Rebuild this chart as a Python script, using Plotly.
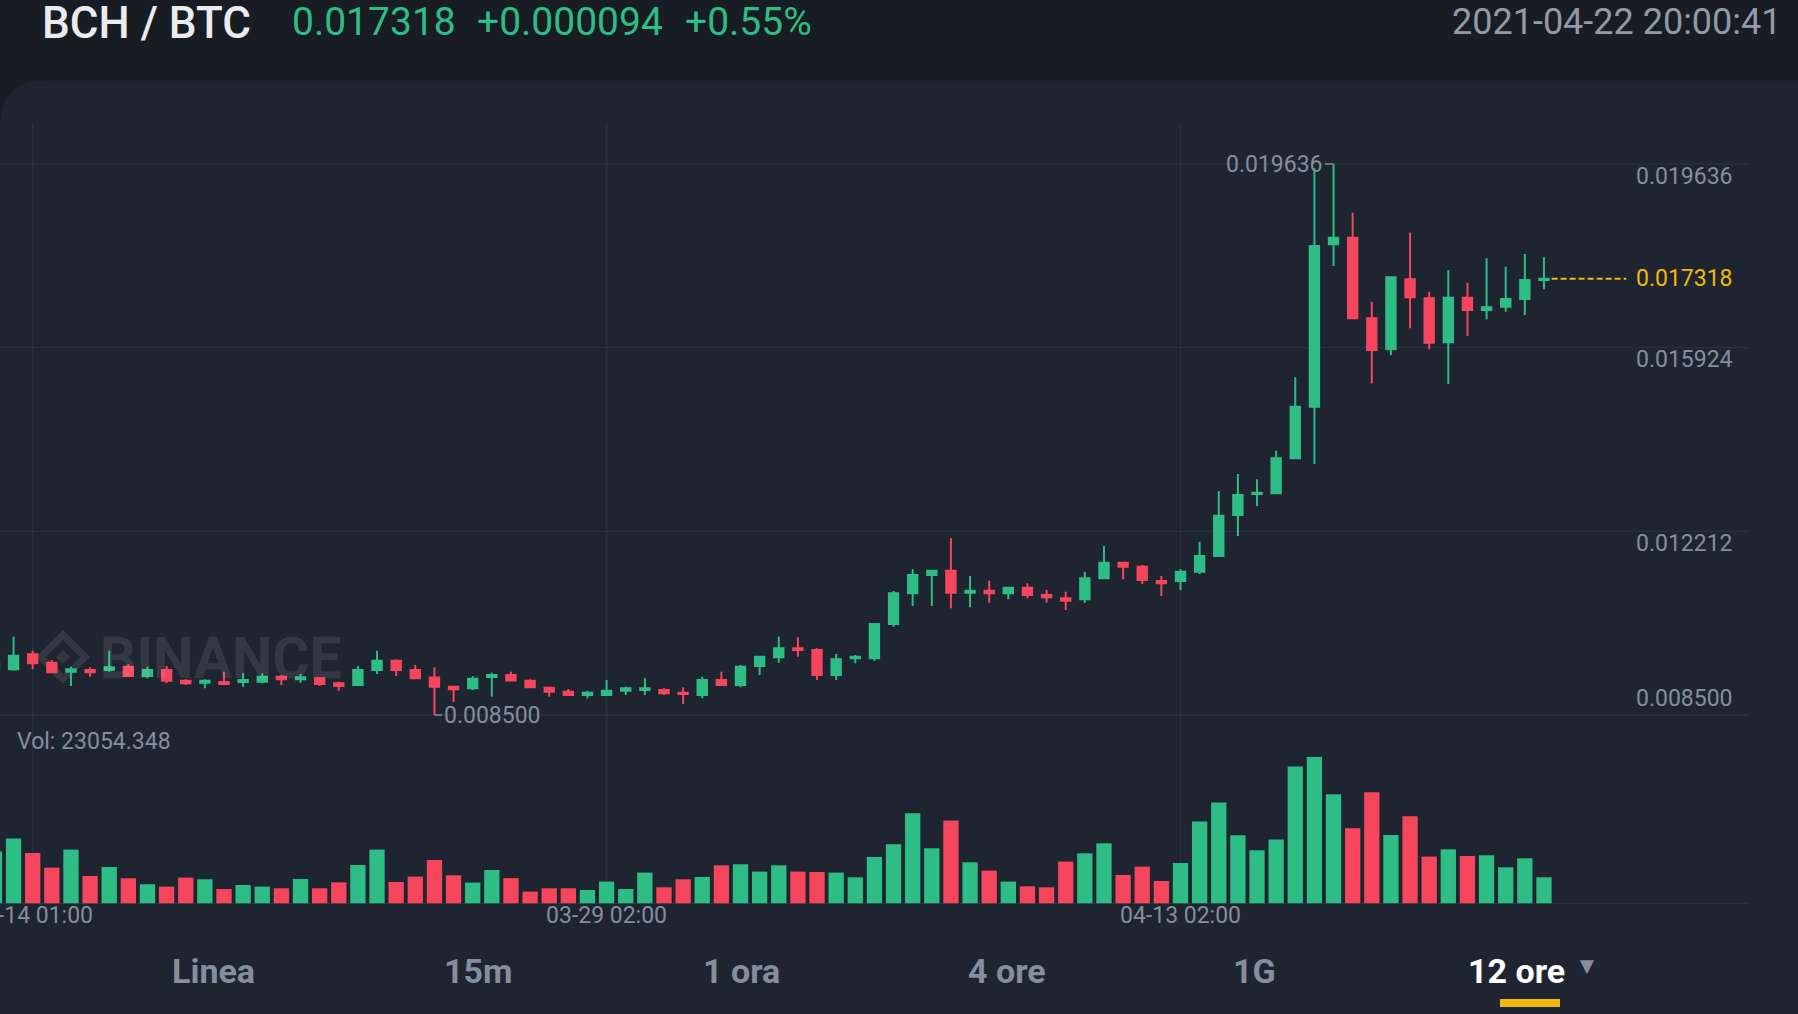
import plotly.graph_objects as go

W, H = 1798, 1014

# 12h candles, index 0 = 03-14 01:00
candle_idx = list(range(-2, 80))
open_ = [
    0.009409, 0.009424, 0.009727, 0.009557, 0.009375, 0.009409, 0.009409, 0.009476, 0.009288, 0.009409,
    0.009193, 0.009153, 0.009167, 0.009167, 0.009173, 0.009274, 0.009221, 0.009242, 0.009141, 0.009106,
    0.009409, 0.009597, 0.009409, 0.009258, 0.009072, 0.009040, 0.009268, 0.009308, 0.009193, 0.009052,
    0.008971, 0.008904, 0.008904, 0.008991, 0.009005, 0.009005, 0.008951, 0.008904, 0.009207, 0.009106,
    0.009490, 0.009666, 0.009848, 0.009814, 0.009308, 0.009646, 0.009646, 0.010339, 0.010960, 0.011329,
    0.011416, 0.010972, 0.011012, 0.010960, 0.011073, 0.010925, 0.010859, 0.010838, 0.011263, 0.011578,
    0.011497, 0.011208, 0.011208, 0.011396, 0.011713, 0.012542, 0.012966, 0.012981, 0.013688, 0.014731,
    0.018013, 0.018146, 0.016517, 0.015891, 0.017306, 0.016921, 0.016032, 0.016934, 0.016685, 0.016752,
    0.016907, 0.017290,
]
high = [
    0.009612, 0.010082, 0.009800, 0.009612, 0.009476, 0.009464, 0.009800, 0.009531, 0.009476, 0.009490,
    0.009221, 0.009221, 0.009375, 0.009343, 0.009343, 0.009308, 0.009329, 0.009262, 0.009173, 0.009490,
    0.009800, 0.009626, 0.009510, 0.009464, 0.009072, 0.009282, 0.009355, 0.009375, 0.009221, 0.009072,
    0.009025, 0.008991, 0.009207, 0.009072, 0.009242, 0.009040, 0.009060, 0.009274, 0.009375, 0.009510,
    0.009692, 0.010082, 0.010070, 0.009848, 0.009733, 0.009713, 0.010353, 0.011006, 0.011445, 0.011430,
    0.012071, 0.011309, 0.011214, 0.011093, 0.011162, 0.011026, 0.010992, 0.011396, 0.011915, 0.011598,
    0.011532, 0.011309, 0.011445, 0.012002, 0.013027, 0.013371, 0.013263, 0.013842, 0.015325, 0.019549,
    0.019636, 0.018651, 0.016853, 0.017346, 0.018247, 0.017055, 0.017493, 0.017237, 0.017730, 0.017560,
    0.017817, 0.017750,
]
low = [
    0.009369, 0.009395, 0.009424, 0.009343, 0.009086, 0.009274, 0.009375, 0.009262, 0.009242, 0.009141,
    0.009106, 0.009040, 0.009106, 0.009072, 0.009141, 0.009106, 0.009153, 0.009086, 0.008991, 0.009086,
    0.009329, 0.009288, 0.009221, 0.008500, 0.008763, 0.009005, 0.008870, 0.009187, 0.009040, 0.008870,
    0.008884, 0.008838, 0.008894, 0.008904, 0.008904, 0.008904, 0.008722, 0.008838, 0.009086, 0.009060,
    0.009308, 0.009557, 0.009678, 0.009207, 0.009207, 0.009545, 0.009597, 0.010285, 0.010703, 0.010703,
    0.010656, 0.010677, 0.010770, 0.010838, 0.010859, 0.010770, 0.010622, 0.010770, 0.011242, 0.011242,
    0.011148, 0.010905, 0.011026, 0.011350, 0.011713, 0.012118, 0.012724, 0.012966, 0.013688, 0.013573,
    0.017574, 0.016497, 0.015204, 0.015776, 0.016315, 0.015891, 0.015190, 0.016160, 0.016497, 0.016651,
    0.016584, 0.017103,
]
close = [
    0.009551, 0.009698, 0.009545, 0.009363, 0.009424, 0.009363, 0.009464, 0.009288, 0.009409, 0.009193,
    0.009141, 0.009193, 0.009127, 0.009207, 0.009274, 0.009221, 0.009262, 0.009127, 0.009086, 0.009409,
    0.009597, 0.009409, 0.009242, 0.009072, 0.009019, 0.009232, 0.009308, 0.009197, 0.009060, 0.008971,
    0.008904, 0.008951, 0.008991, 0.009040, 0.009040, 0.008939, 0.008924, 0.009207, 0.009106, 0.009476,
    0.009678, 0.009848, 0.009814, 0.009308, 0.009626, 0.009678, 0.010339, 0.010960, 0.011329, 0.011416,
    0.010972, 0.011012, 0.010960, 0.011073, 0.010925, 0.010879, 0.010810, 0.011263, 0.011578, 0.011497,
    0.011228, 0.011162, 0.011396, 0.011713, 0.012528, 0.012946, 0.012993, 0.013688, 0.014731, 0.017978,
    0.018146, 0.016517, 0.015877, 0.017346, 0.016942, 0.016024, 0.016934, 0.016685, 0.016740, 0.016907,
    0.017291, 0.017318,
]
volume = [
    45842, 57369, 44601, 31655, 47616, 24207, 32187, 22168, 16847, 14808,
    22788, 21281, 12680, 16227, 14808, 13301, 21547, 13301, 18621, 33961,
    47616, 18887, 23675, 38394, 24828, 18355, 29527, 22345, 10374, 13301,
    13301, 11793, 19241, 12680, 27222, 14187, 21281, 23320, 33695, 34581,
    28108, 33695, 28108, 27754, 27222, 23054, 41054, 52315, 79803, 48769,
    73330, 36355, 28995, 19241, 15074, 14187, 36975, 44335, 53202, 25094,
    32542, 19773, 35734, 72443, 89291, 60296, 46995, 56483, 121212, 129724,
    96650, 66503, 98424, 60562, 77143, 41409, 47882, 41941, 42562, 31921,
    39902, 23054.348,
]

price_ticks = [0.008500, 0.012212, 0.015924, 0.019636]
date_tick_idx = [0, 30, 60]
date_tick_labels = ["03-14 01:00", "03-29 02:00", "04-13 02:00"]
last_price = 0.017318
day_high, day_high_idx = 0.019636, 68
day_low, day_low_idx = 0.008500, 21
tabs = ["Linea", "15m", "1 ora", "4 ore", "1G", "12 ore"]

GREEN = "#2ebd85"
RED = "#f6465d"
TOP_BG = "#181c23"
PANEL = "#1f2530"
GRID = "#2a313b"
GREY = "#848e9c"
YELLOW = "#f0b90b"
FONT = "Roboto"


def px(x):
    return x / W


def py(y):
    return 1 - y / H


# pixel calibration of the axes
step_px, first_px = 19.13, 32.7
x_range = [-first_px / step_px, (W - first_px) / step_px]
p_per_px = (price_ticks[-1] - price_ticks[0]) / (715 - 164)
y_range = [price_ticks[0] - (H - 715) * p_per_px, price_ticks[0] + 715 * p_per_px]
v_per_px = volume[-1] / 26.0
v_range = [-(H - 903.3) * v_per_px, 903.3 * v_per_px]

vol_colors = [GREEN if c >= o else RED for o, c in zip(open_, close)]

fig = go.Figure()
fig.add_trace(go.Candlestick(
    x=candle_idx, open=open_, high=high, low=low, close=close,
    increasing=dict(line=dict(color=GREEN, width=2), fillcolor=GREEN),
    decreasing=dict(line=dict(color=RED, width=2), fillcolor=RED),
    whiskerwidth=0, hoverinfo="skip", showlegend=False,
))
fig.add_trace(go.Bar(
    x=candle_idx, y=volume, marker=dict(color=vol_colors, line=dict(width=0)),
    width=0.8, yaxis="y2", hoverinfo="skip", showlegend=False,
))

shapes = []
r, top = 45, 80.5
shapes.append(dict(
    type="path", xref="paper", yref="paper", layer="below",
    path=f"M 0,{py(top + r)} Q 0,{py(top)} {px(r)},{py(top)} L 1,{py(top)} L 1,0 L 0,0 Z",
    fillcolor=PANEL, line=dict(width=0),
))
for t in price_ticks:
    shapes.append(dict(type="line", xref="paper", yref="y", x0=0, x1=px(1749), y0=t, y1=t,
                       layer="below", line=dict(color=GRID, width=1.3)))
for i in date_tick_idx:
    shapes.append(dict(type="line", xref="x", yref="paper", x0=i, x1=i, y0=py(903.3), y1=py(123),
                       layer="below", line=dict(color=GRID, width=1.3)))
shapes.append(dict(type="line", xref="paper", yref="y2", x0=0, x1=px(1749), y0=0, y1=0,
                   layer="below", line=dict(color=GRID, width=1.3)))

# watermark logo
cx, cy, s = 63, 657, 22
shapes.append(dict(
    type="path", xref="paper", yref="paper", layer="below",
    path=f"M {px(cx - s)},{py(cy)} L {px(cx)},{py(cy - s)} L {px(cx + s)},{py(cy)} "
         f"L {px(cx)},{py(cy + s)} Z",
    line=dict(color="#323945", width=7), fillcolor="rgba(0,0,0,0)",
))
shapes.append(dict(
    type="path", xref="paper", yref="paper", layer="below",
    path=f"M {px(cx - 7)},{py(cy)} L {px(cx)},{py(cy - 7)} L {px(cx + 7)},{py(cy)} "
         f"L {px(cx)},{py(cy + 7)} Z",
    line=dict(width=0), fillcolor="#323945",
))

# last price dashed line
shapes.append(dict(type="line", xref="x", yref="y", x0=candle_idx[-1] + 0.4, x1=candle_idx[-1] + 4.3,
                   y0=last_price, y1=last_price, line=dict(color=YELLOW, width=2, dash="6px,3px")))
# high / low markers
shapes.append(dict(type="line", xref="x", yref="y", x0=day_high_idx - 0.45, x1=day_high_idx,
                   y0=day_high, y1=day_high, line=dict(color=GREY, width=1.5)))
shapes.append(dict(type="line", xref="x", yref="y", x0=day_low_idx, x1=day_low_idx + 0.4,
                   y0=day_low, y1=day_low, line=dict(color=GREY, width=1.5)))
# active tab underline
shapes.append(dict(type="rect", xref="paper", yref="paper", x0=px(1500), x1=px(1560),
                   y0=py(1007), y1=py(999), fillcolor=YELLOW, line=dict(width=0)))

ann = []


def text(x, y, s, size, color, xanchor="left", weight=None, xref="paper", yref="paper"):
    f = dict(family=FONT, size=size, color=color)
    if weight:
        f["weight"] = weight
    ann.append(dict(x=x, y=y, xref=xref, yref=yref, text=s, showarrow=False,
                    xanchor=xanchor, yanchor="middle", font=f))


# header
text(px(40), py(23), "BCH / BTC", 44, "#eaecef", weight=500)
text(px(290), py(22), "0.017318", 39, GREEN)
text(px(475), py(22), "+0.000094", 39, GREEN)
text(px(683), py(22), "+0.55%", 39, GREEN)
text(px(1784), py(22), "2021-04-22 20:00:41", 36, "#929aa5", xanchor="right")

# price labels
label_offsets = [-17, 12, 12, 12]
for t, off in zip(price_ticks, label_offsets):
    ypx = 715 - (t - price_ticks[0]) / p_per_px + off
    text(px(1735), py(ypx), f"{t:.6f}", 23, GREY, xanchor="right")
text(px(1735), last_price, f"{last_price:.6f}", 23, YELLOW, xanchor="right", yref="y")
text(day_high_idx - 0.45, day_high, f"{day_high:.6f}", 23, GREY, xanchor="right", xref="x", yref="y")
text(day_low_idx + 0.42, day_low, f"{day_low:.6f}", 23, GREY, xref="x", yref="y")

# volume label and date labels
text(px(15), py(741), f"Vol: {volume[-1]:.3f}", 23, GREY)
for i, lab in zip(date_tick_idx, date_tick_labels):
    text(i, py(915), lab, 23, GREY, xanchor="center", xref="x")

# watermark
text(px(98), py(658), "BINANCE", 57, "rgba(255,255,255,0.09)", weight="bold")

# interval tabs
tab_x = [213, 478, 741, 1007, 1254, 1516]
for tx, lab in zip(tab_x, tabs):
    col = "#ffffff" if lab == "12 ore" else GREY
    text(px(tx), py(971), lab, 34, col, xanchor="center", weight="bold")
text(px(1587), py(966), "▼", 24, GREY, xanchor="center")

fig.update_layout(
    width=W, height=H, margin=dict(l=0, r=0, t=0, b=0),
    paper_bgcolor=TOP_BG, plot_bgcolor="rgba(0,0,0,0)",
    xaxis=dict(range=x_range, visible=False, rangeslider=dict(visible=False), fixedrange=True),
    yaxis=dict(range=y_range, visible=False, fixedrange=True),
    yaxis2=dict(range=v_range, visible=False, overlaying="y", fixedrange=True),
    shapes=shapes, annotations=ann, showlegend=False,
)

fig.write_html("out.html", config=dict(displayModeBar=False),
               post_script="document.body.style.margin='0';document.body.style.overflow='hidden';")
